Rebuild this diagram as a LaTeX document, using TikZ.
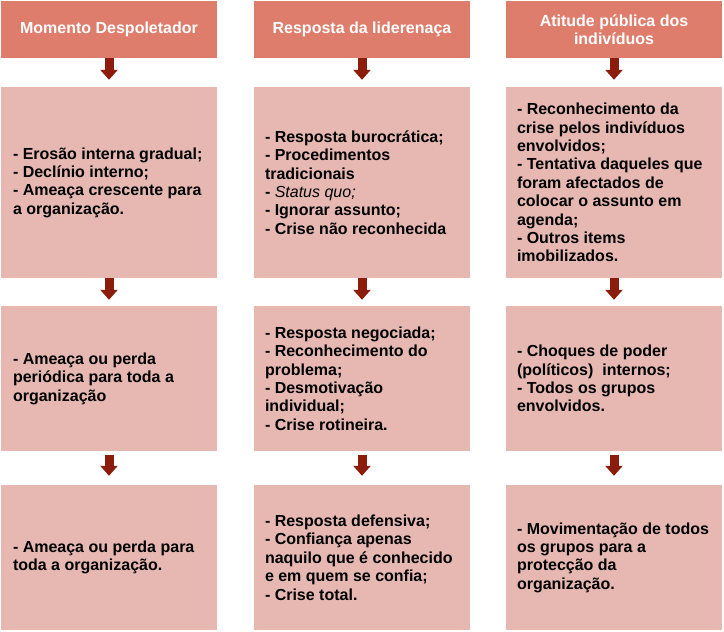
\documentclass[tikz,border=0pt]{standalone}
\usepackage{fontspec}
\setmainfont{Liberation Sans}
\usetikzlibrary{arrows.meta}
\definecolor{headc}{HTML}{DE7D6C}
\definecolor{boxc}{HTML}{E6B8B1}
\definecolor{arrc}{HTML}{8C1C0C}
\tikzset{
  head/.style={fill=headc, draw=none, minimum width=216pt, minimum height=57pt, inner sep=0pt,
    text=white, font=\bfseries\fontsize{16}{18.4}\selectfont, align=center},
  box/.style={fill=boxc, draw=none, minimum width=216pt, inner sep=0pt},
  txt/.style={anchor=west, inner sep=0pt, align=left, font=\bfseries\fontsize{16}{18.4}\selectfont},
  downarr/.style={draw=arrc, line width=9pt, -{Triangle[width=17pt,length=10pt]}, shorten >=7pt}
}
\begin{document}
\begin{tikzpicture}[x=1pt,y=-1pt]
\useasboundingbox (0,0) rectangle (724,632);
% headers
\node[head] (h1) at (109,29.5) {Momento Despoletador};
\node[head] (h2) at (362,29.5) {Resposta da liderenaça};
\node[head] (h3) at (614,29.5) {Atitude pública dos\\indivíduos};
% row 1
\node[box, minimum height=191pt] (b11) at (109,182.5) {};
\node[box, minimum height=191pt] (b12) at (362,182.5) {};
\node[box, minimum height=191pt] (b13) at (614,182.5) {};
% row 2
\node[box, minimum height=145pt] (b21) at (109,378.5) {};
\node[box, minimum height=145pt] (b22) at (362,378.5) {};
\node[box, minimum height=145pt] (b23) at (614,378.5) {};
% row 3
\node[box, minimum height=145pt] (b31) at (109,557.5) {};
\node[box, minimum height=145pt] (b32) at (362,557.5) {};
\node[box, minimum height=145pt] (b33) at (614,557.5) {};
% texts
\node[txt] (t11) at ([xshift=12pt]b11.west) {- Erosão interna gradual;\\- Declínio interno;\\- Ameaça crescente para\\a organização.};
\node[txt] (t12) at ([xshift=11pt]b12.west) {- Resposta burocrática;\\- Procedimentos\\tradicionais\\- {\normalfont\itshape Status quo;}\\- Ignorar assunto;\\- Crise não reconhecida};
\node[txt] (t13) at ([xshift=11pt]b13.west) {- Reconhecimento da\\crise pelos indivíduos\\envolvidos;\\- Tentativa daqueles que\\foram afectados de\\colocar o assunto em\\agenda;\\- Outros items\\imobilizados.};
\node[txt] (t21) at ([xshift=12pt]b21.west) {- Ameaça ou perda\\periódica para toda a\\organização};
\node[txt] (t22) at ([xshift=11pt]b22.west) {- Resposta negociada;\\- Reconhecimento do\\problema;\\- Desmotivação\\individual;\\- Crise rotineira.};
\node[txt] (t23) at ([xshift=11pt]b23.west) {- Choques de poder\\(políticos)\ \ internos;\\- Todos os grupos\\envolvidos.};
\node[txt] (t31) at ([xshift=12pt]b31.west) {- Ameaça ou perda para\\toda a organização.};
\node[txt] (t32) at ([xshift=11pt]b32.west) {- Resposta defensiva;\\- Confiança apenas\\naquilo que é conhecido\\e em quem se confia;\\- Crise total.};
\node[txt] (t33) at ([xshift=11pt]b33.west) {- Movimentação de todos\\os grupos para a\\protecção da\\organização.};
% arrows
\foreach \c in {1,2,3}{
  \draw[downarr] (h\c.south) -- (b1\c.north);
  \draw[downarr, shorten >=6pt] (b1\c.south) -- (b2\c.north);
  \draw[downarr, shorten <=4pt, shorten >=9pt] (b2\c.south) -- (b3\c.north);
}
\end{tikzpicture}
\end{document}
